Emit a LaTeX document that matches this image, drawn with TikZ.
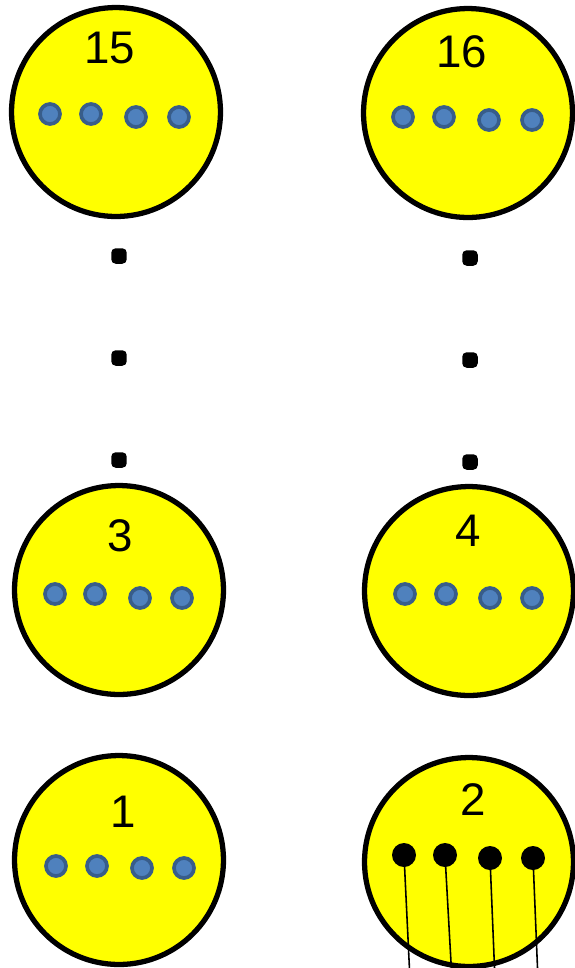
\documentclass[tikz,border=0pt]{standalone}
\usepackage{fontspec}
\setmainfont{Liberation Sans}
\definecolor{padyellow}{HTML}{FFFF00}
\definecolor{pinfill}{HTML}{4F81BD}
\definecolor{pinedge}{HTML}{385D8A}
\begin{document}
\begin{tikzpicture}[x=0.02cm,y=-0.02cm,thick]
  \tikzstyle{disc}=[draw, circle, fill=padyellow, line width=3pt, minimum size=4.18cm, inner sep=0pt]
  \tikzstyle{contact}=[draw=pinedge, fill=pinfill, circle, line width=2.1pt, minimum size=0.4cm, inner sep=0pt]
  \tikzstyle{solder}=[fill=black, circle, minimum size=0.48cm, inner sep=0pt]
  \tikzstyle{vdot}=[fill=black, rectangle, rounded corners=2.5pt, minimum size=0.31cm, inner sep=0pt]
  \tikzstyle{num}=[inner sep=0pt, font=\fontsize{26}{30}\selectfont]
  \tikzstyle{wire}=[line width=0.9pt]

  \useasboundingbox (0,0) rectangle (575,968);
  \clip (0,0) rectangle (575,968);

  \node[disc] (d15) at (116,112) {};
  \node[disc] (d16) at (468,113) {};
  \node[disc] (d3) at (119,590) {};
  \node[disc] (d4) at (469,591) {};
  \node[disc] (d1) at (119,860) {};
  \node[disc] (d2) at (469,862) {};

  \node[num] (n15) at (110,48) {15};
  \node[num] (n16) at (462,52) {16};
  \node[num] (n3) at (120,536) {3};
  \node[num] (n4) at (468,531) {4};
  \node[num] (n1) at (123,812) {1};
  \node[num] (n2) at (473,800) {2};

  \node[contact] (c15a) at (50,114) {}; \node[contact] (c15b) at (91,114) {};
  \node[contact] (c15c) at (136,117) {}; \node[contact] (c15d) at (179,117) {};
  \node[contact] (c16a) at (403,117) {}; \node[contact] (c16b) at (444,117) {};
  \node[contact] (c16c) at (489,120) {}; \node[contact] (c16d) at (532,120) {};
  \node[contact] (c3a) at (55,594) {}; \node[contact] (c3b) at (95,594) {};
  \node[contact] (c3c) at (140,598) {}; \node[contact] (c3d) at (182,598) {};
  \node[contact] (c4a) at (405,594) {}; \node[contact] (c4b) at (446,594) {};
  \node[contact] (c4c) at (490,598) {}; \node[contact] (c4d) at (532,598) {};
  \node[contact] (c1a) at (56,866) {}; \node[contact] (c1b) at (97,866) {};
  \node[contact] (c1c) at (142,868) {}; \node[contact] (c1d) at (184,868) {};

  \node[solder] (s2a) at (404,855) {}; \node[solder] (s2b) at (445,855) {};
  \node[solder] (s2c) at (490,858) {}; \node[solder] (s2d) at (533,858) {};

  \node[vdot] (vl1) at (119,256) {};
  \node[vdot] (vl2) at (119,358) {};
  \node[vdot] (vl3) at (119,460) {};
  \node[vdot] (vr1) at (470,258) {};
  \node[vdot] (vr2) at (470,360) {};
  \node[vdot] (vr3) at (470,462) {};

  \coordinate (w2a) at (410,980);
  \coordinate (w2b) at (452,980);
  \coordinate (w2c) at (495,980);
  \coordinate (w2d) at (538,980);

  \draw[wire] (s2a.center) -- (w2a);
  \draw[wire] (s2b.center) -- (w2b);
  \draw[wire] (s2c.center) -- (w2c);
  \draw[wire] (s2d.center) -- (w2d);
\end{tikzpicture}
\end{document}
